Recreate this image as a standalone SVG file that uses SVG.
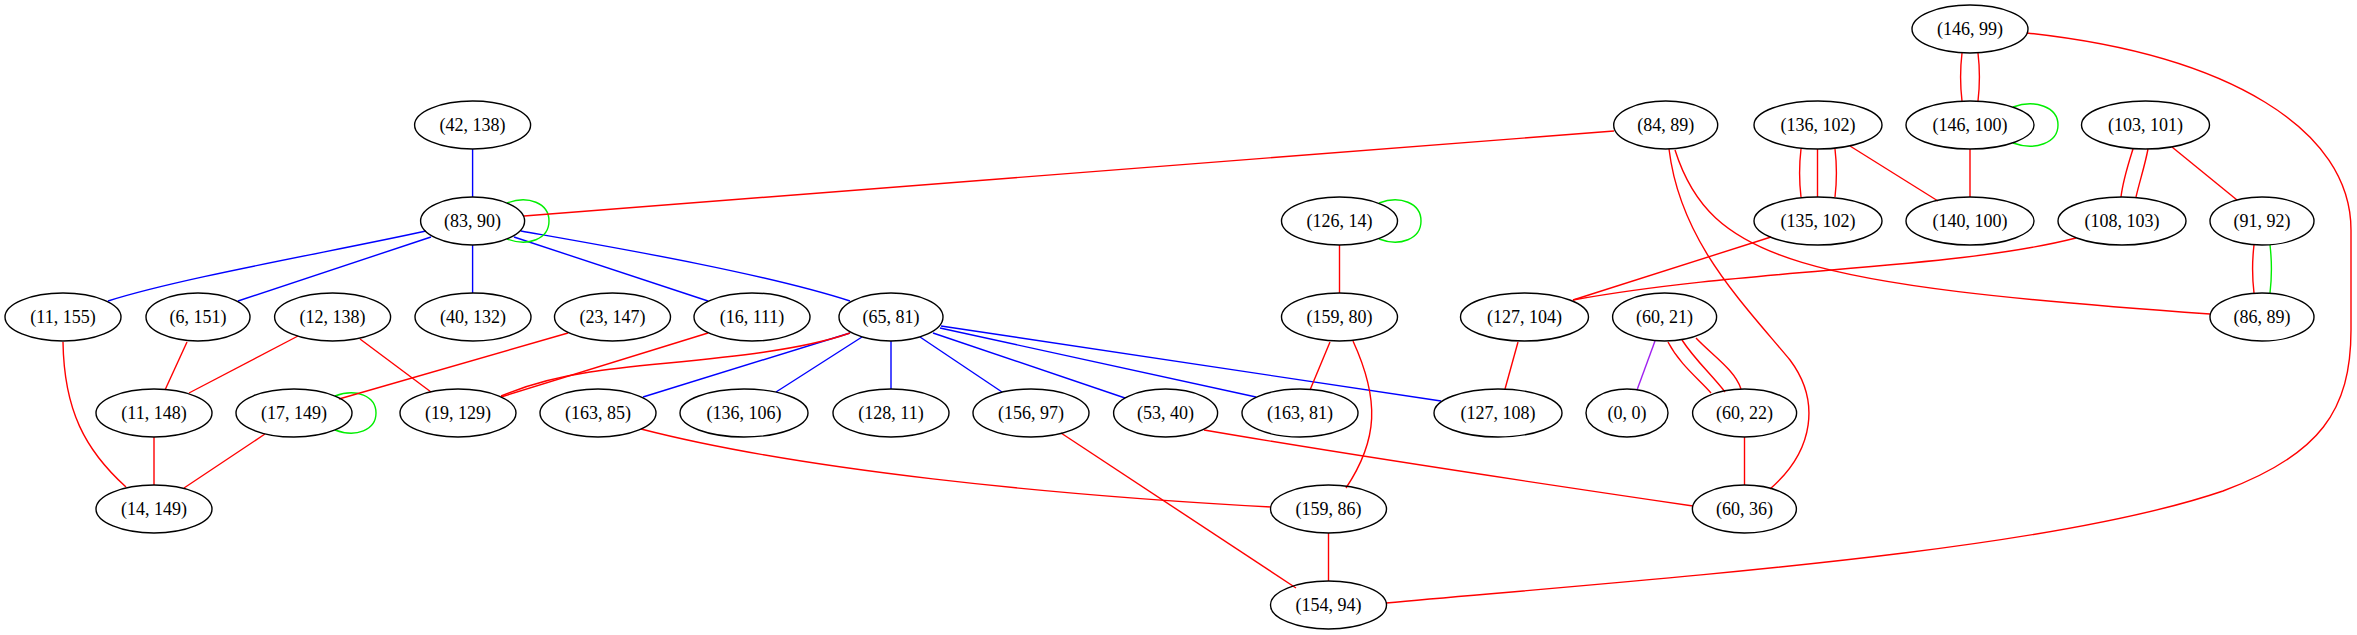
<svg xmlns="http://www.w3.org/2000/svg" width="2357" height="635" viewBox="0 0 2357 635">
<style>
.n ellipse{fill:none;stroke:#000;stroke-width:1.4}
.n text{font-family:"Liberation Serif","Times New Roman",serif;font-size:18px;text-anchor:middle;fill:#000}
#edges path{fill:none;stroke-width:1.4}
.r{stroke:#ff0000}
.b{stroke:#0000ff}
.g{stroke:#00ee00}
.p{stroke:#a020f0}
</style>
<rect width="2357" height="635" fill="#fff"/>
<g id="edges">
<path class="b" d="M472.6,149 L472.6,197"/>
<path class="b" d="M426,231 C330,252 180,278 108,301"/>
<path class="b" d="M431,237 L238,301"/>
<path class="b" d="M472.6,245 L472.6,293"/>
<path class="b" d="M514,237 L708,301"/>
<path class="b" d="M521,231 C600,245 760,272 850,301"/>
<path class="b" d="M850,333 L643,397"/>
<path class="b" d="M862,337 L776,392"/>
<path class="b" d="M891,341 L891,389"/>
<path class="b" d="M920,337 L1002,392"/>
<path class="b" d="M933,333 L1125,398"/>
<path class="b" d="M940,328 L1256,397"/>
<path class="b" d="M941,326 L1441,401"/>
<path class="g" d="M507,203 C528,195 549,203 549,221 C549,239 528,247 507,239"/>
<path class="g" d="M335,396 C356,388 376,396 376,413 C376,430 356,438 335,430"/>
<path class="g" d="M1379,203 C1400,195 1421,203 1421,221 C1421,239 1400,247 1379,239"/>
<path class="g" d="M2013,107 C2035,99 2058,107 2058,125 C2058,143 2035,151 2013,143"/>
<path class="g" d="M2270,245 C2272,262 2272,276 2270,293"/>
<path class="r" d="M2254,245 C2252,262 2252,276 2254,293"/>
<path class="p" d="M1655,341 L1637,390"/>
<path class="r" d="M1614,131 L524,216"/>
<path class="r" d="M1669,149 C1680,240 1740,300 1790,360 C1820,400 1815,450 1770,489"/>
<path class="r" d="M1675,150 C1710,260 1800,285 2210,314"/>
<path class="r" d="M63,342 C64,410 85,450 126,487"/>
<path class="r" d="M187,342 L165,390"/>
<path class="r" d="M298,336 L189,393"/>
<path class="r" d="M360,339 L431,392"/>
<path class="r" d="M568,333 L339,399"/>
<path class="r" d="M708,333 L501,397"/>
<path class="r" d="M850,333 C780,358 650,362 590,372 C550,378 520,388 501,396"/>
<path class="r" d="M154,437 L154,485"/>
<path class="r" d="M265,434 L184,488"/>
<path class="r" d="M641,429 C800,470 1050,495 1271,507"/>
<path class="r" d="M1061,433 L1296,588"/>
<path class="r" d="M1204,430 C1350,455 1550,485 1693,506"/>
<path class="r" d="M1339.5,245 L1339.5,293"/>
<path class="r" d="M1330,342 L1310,390"/>
<path class="r" d="M1353,341 C1380,400 1378,440 1346,488"/>
<path class="r" d="M1328.5,533 L1328.5,581"/>
<path class="r" d="M1518,342 L1505,389"/>
<path class="r" d="M1771,237 L1573,300"/>
<path class="r" d="M2076,238 C1950,270 1750,268 1573,300"/>
<path class="r" d="M1668,342 C1680,365 1700,380 1711,393"/>
<path class="r" d="M1682,340 C1695,360 1712,375 1725,392"/>
<path class="r" d="M1696,338 C1712,355 1735,370 1741,389"/>
<path class="r" d="M1744.5,437 L1744.5,485"/>
<path class="r" d="M1962,53 C1960,70 1960,84 1962,101"/>
<path class="r" d="M1978,53 C1980,70 1980,84 1978,101"/>
<path class="r" d="M2027,33 C2230,55 2351,130 2351,230 L2351,330 C2351,410 2320,455 2223,491 C2050,550 1700,575 1386,603"/>
<path class="r" d="M1970,149 L1970,197"/>
<path class="r" d="M1801,149 C1799,166 1799,180 1801,197"/>
<path class="r" d="M1817.5,149 L1817.5,197"/>
<path class="r" d="M1835,149 C1837,166 1837,180 1835,197"/>
<path class="r" d="M1850,146 L1938,201"/>
<path class="r" d="M2133,149 C2128,165 2123,180 2121,197"/>
<path class="r" d="M2148,149 C2145,165 2140,180 2136,197"/>
<path class="r" d="M2172,147 L2237,200"/>
</g>
<g id="n146_99" class="n"><ellipse cx="1970" cy="29" rx="58" ry="24"/><text x="1970" y="35">(146, 99)</text></g>
<g id="n42_138" class="n"><ellipse cx="472.6" cy="125" rx="58" ry="24"/><text x="472.6" y="131">(42, 138)</text></g>
<g id="n84_89" class="n"><ellipse cx="1665.7" cy="125" rx="52" ry="24"/><text x="1665.7" y="131">(84, 89)</text></g>
<g id="n136_102" class="n"><ellipse cx="1818" cy="125" rx="64" ry="24"/><text x="1818" y="131">(136, 102)</text></g>
<g id="n146_100" class="n"><ellipse cx="1970" cy="125" rx="64" ry="24"/><text x="1970" y="131">(146, 100)</text></g>
<g id="n103_101" class="n"><ellipse cx="2145.5" cy="125" rx="64" ry="24"/><text x="2145.5" y="131">(103, 101)</text></g>
<g id="n83_90" class="n"><ellipse cx="472.6" cy="221" rx="52" ry="24"/><text x="472.6" y="227">(83, 90)</text></g>
<g id="n126_14" class="n"><ellipse cx="1339.5" cy="221" rx="58" ry="24"/><text x="1339.5" y="227">(126, 14)</text></g>
<g id="n135_102" class="n"><ellipse cx="1818" cy="221" rx="64" ry="24"/><text x="1818" y="227">(135, 102)</text></g>
<g id="n140_100" class="n"><ellipse cx="1970" cy="221" rx="64" ry="24"/><text x="1970" y="227">(140, 100)</text></g>
<g id="n108_103" class="n"><ellipse cx="2122" cy="221" rx="64" ry="24"/><text x="2122" y="227">(108, 103)</text></g>
<g id="n91_92" class="n"><ellipse cx="2262" cy="221" rx="52" ry="24"/><text x="2262" y="227">(91, 92)</text></g>
<g id="n11_155" class="n"><ellipse cx="63" cy="317" rx="58" ry="24"/><text x="63" y="323">(11, 155)</text></g>
<g id="n6_151" class="n"><ellipse cx="198" cy="317" rx="52" ry="24"/><text x="198" y="323">(6, 151)</text></g>
<g id="n12_138" class="n"><ellipse cx="332.6" cy="317" rx="58" ry="24"/><text x="332.6" y="323">(12, 138)</text></g>
<g id="n40_132" class="n"><ellipse cx="473" cy="317" rx="58" ry="24"/><text x="473" y="323">(40, 132)</text></g>
<g id="n23_147" class="n"><ellipse cx="612.5" cy="317" rx="58" ry="24"/><text x="612.5" y="323">(23, 147)</text></g>
<g id="n16_111" class="n"><ellipse cx="752" cy="317" rx="58" ry="24"/><text x="752" y="323">(16, 111)</text></g>
<g id="n65_81" class="n"><ellipse cx="891" cy="317" rx="52" ry="24"/><text x="891" y="323">(65, 81)</text></g>
<g id="n159_80" class="n"><ellipse cx="1339.5" cy="317" rx="58" ry="24"/><text x="1339.5" y="323">(159, 80)</text></g>
<g id="n127_104" class="n"><ellipse cx="1524.5" cy="317" rx="64" ry="24"/><text x="1524.5" y="323">(127, 104)</text></g>
<g id="n60_21" class="n"><ellipse cx="1664.6" cy="317" rx="52" ry="24"/><text x="1664.6" y="323">(60, 21)</text></g>
<g id="n86_89" class="n"><ellipse cx="2262" cy="317" rx="52" ry="24"/><text x="2262" y="323">(86, 89)</text></g>
<g id="n11_148" class="n"><ellipse cx="154" cy="413" rx="58" ry="24"/><text x="154" y="419">(11, 148)</text></g>
<g id="n17_149" class="n"><ellipse cx="294" cy="413" rx="58" ry="24"/><text x="294" y="419">(17, 149)</text></g>
<g id="n19_129" class="n"><ellipse cx="458" cy="413" rx="58" ry="24"/><text x="458" y="419">(19, 129)</text></g>
<g id="n163_85" class="n"><ellipse cx="598" cy="413" rx="58" ry="24"/><text x="598" y="419">(163, 85)</text></g>
<g id="n136_106" class="n"><ellipse cx="744" cy="413" rx="64" ry="24"/><text x="744" y="419">(136, 106)</text></g>
<g id="n128_11" class="n"><ellipse cx="891" cy="413" rx="58" ry="24"/><text x="891" y="419">(128, 11)</text></g>
<g id="n156_97" class="n"><ellipse cx="1031" cy="413" rx="58" ry="24"/><text x="1031" y="419">(156, 97)</text></g>
<g id="n53_40" class="n"><ellipse cx="1165.6" cy="413" rx="52" ry="24"/><text x="1165.6" y="419">(53, 40)</text></g>
<g id="n163_81" class="n"><ellipse cx="1300" cy="413" rx="58" ry="24"/><text x="1300" y="419">(163, 81)</text></g>
<g id="n127_108" class="n"><ellipse cx="1498" cy="413" rx="64" ry="24"/><text x="1498" y="419">(127, 108)</text></g>
<g id="n0_0" class="n"><ellipse cx="1627" cy="413" rx="41" ry="24"/><text x="1627" y="419">(0, 0)</text></g>
<g id="n60_22" class="n"><ellipse cx="1744.6" cy="413" rx="52" ry="24"/><text x="1744.6" y="419">(60, 22)</text></g>
<g id="n14_149" class="n"><ellipse cx="154" cy="509" rx="58" ry="24"/><text x="154" y="515">(14, 149)</text></g>
<g id="n159_86" class="n"><ellipse cx="1328.5" cy="509" rx="58" ry="24"/><text x="1328.5" y="515">(159, 86)</text></g>
<g id="n60_36" class="n"><ellipse cx="1744.4" cy="509" rx="52" ry="24"/><text x="1744.4" y="515">(60, 36)</text></g>
<g id="n154_94" class="n"><ellipse cx="1328.5" cy="605" rx="58" ry="24"/><text x="1328.5" y="611">(154, 94)</text></g>
</svg>
